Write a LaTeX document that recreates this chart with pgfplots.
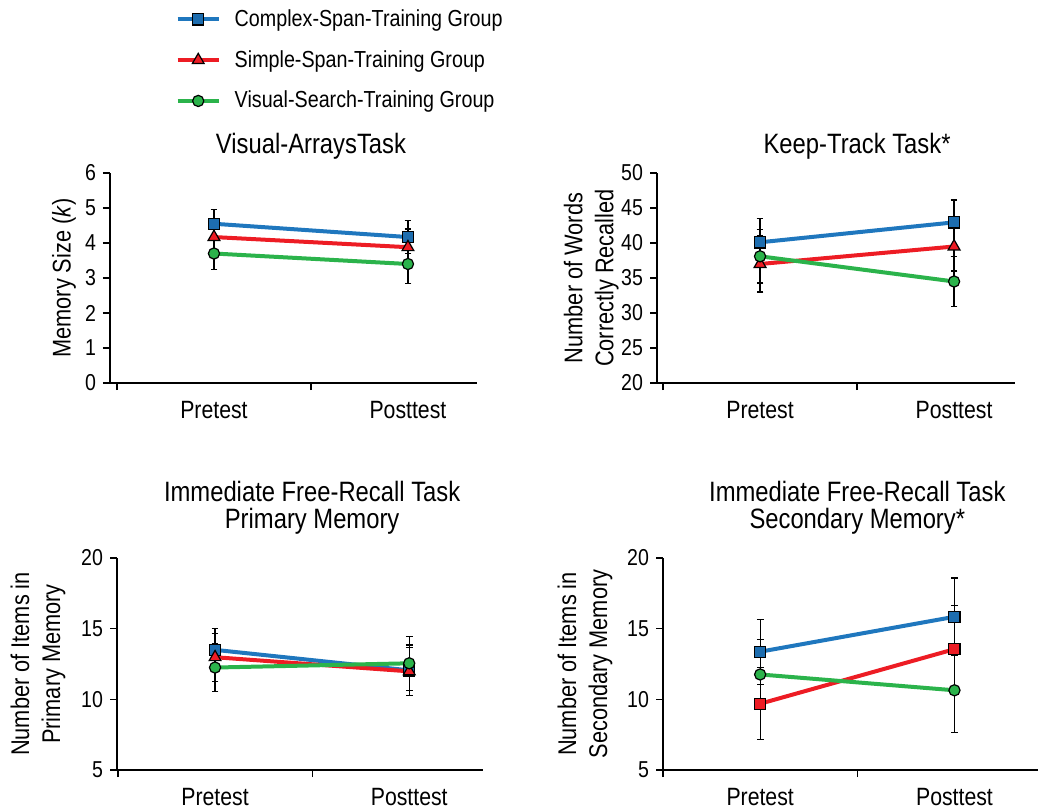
\documentclass[border=0pt]{standalone}
\usepackage{fontspec}
\setmainfont{Liberation Sans}[FakeStretch=0.85]
\usepackage{pgfplots}
\pgfplotsset{compat=1.18}

\definecolor{cblue}{RGB}{31,119,190}
\definecolor{cred}{RGB}{237,28,36}
\definecolor{cgreen}{RGB}{43,179,75}

\pgfplotsset{
  panel/.style={
    scale only axis, clip=false,
    axis x line*=bottom, axis y line*=left,
    axis line style={-, line width=0.6pt},
    xtick={-0.5,0.5}, xticklabels={,},
    extra x ticks={0,1}, extra x tick labels={Pretest,Posttest},
    extra x tick style={major tick length=0pt},
    tick align=outside, major tick length=3.5pt,
    tick style={black, line width=0.6pt},
    /pgf/number format/assume math mode=true,
    yticklabel style={font=\fontsize{11.5}{12}\selectfont},
    xticklabel style={font=\fontsize{12.5}{14}\selectfont, yshift=-5.5pt},
    ylabel style={font=\fontsize{12.8}{15.5}\selectfont, align=center, anchor=center},
    error bars/y dir=both, error bars/y explicit,
    error bars/error bar style={black, line width=0.6pt, solid},
    error bars/error mark options={rotate=90, mark size=1.7pt, line width=0.6pt, black},
  },
  cs/.style={cblue, line width=2pt, mark=square*, mark size=2.8pt,
    mark options={fill=cblue!92!black, draw=black, line width=0.6pt, solid}},
  ss/.style={cred, line width=2pt, mark=triangle*, mark size=3.4pt,
    mark options={fill=cred, draw=black, line width=0.6pt, solid}},
  ssq/.style={cred, line width=2pt, mark=square*, mark size=2.8pt,
    mark options={fill=cred, draw=black, line width=0.6pt, solid}},
  vs/.style={cgreen, line width=2pt, mark=*, mark size=2.8pt,
    mark options={fill=cgreen, draw=black, line width=0.6pt, solid}},
}

\begin{document}
\begin{tikzpicture}
\useasboundingbox (0pt,0pt) rectangle (521.5pt,-406pt);

% Visual arrays
\begin{axis}[panel, at={(55pt,-191.5pt)}, anchor=south west,
  width=183.5pt, height=105pt,
  xmin=-0.536, xmax=1.356, ymin=0, ymax=6, ytick={0,1,...,6},
  ylabel={Memory Size (\textit{k})},
  ylabel style={at={(axis description cs:-0.125,0.5)}},
  legend style={at={(axis description cs:0.178,1.80)}, anchor=north west,
    draw=none, fill=none, inner sep=0pt, row sep=6.5pt,
    font=\fontsize{11.6}{13}\selectfont},
  legend cell align=left,
  legend image code/.code={\draw[mark repeat=2,mark phase=2,#1] plot coordinates {(0pt,0pt)(10.25pt,0pt)(20.5pt,0pt)};
    \path (25.5pt,0pt);},
]
\addplot[cs] coordinates {(0,4.55) +- (0,0.40) (1,4.17) +- (0,0.47)};
\addlegendentry{Complex-Span-Training Group}
\addplot[ss] coordinates {(0,4.17) +- (0,0.42) (1,3.88) +- (0,0.52)};
\addlegendentry{Simple-Span-Training Group}
\addplot[vs] coordinates {(0,3.70) +- (0,0.46) (1,3.40) +- (0,0.55)};
\addlegendentry{Visual-Search-Training Group}
\node[anchor=base, yshift=10pt, font=\fontsize{14}{14}\selectfont] at (axis cs:0.5,6) {Visual-ArraysTask};
\end{axis}

% Keep track
\begin{axis}[panel, at={(328.5pt,-191.5pt)}, anchor=south west,
  width=179pt, height=105pt,
  xmin=-0.531, xmax=1.314, ymin=20, ymax=50, ytick={20,25,...,50},
  ylabel={Number of Words\\Correctly Recalled},
  ylabel style={at={(axis description cs:-0.184,0.5)}},
]
\addplot[cs] coordinates {(0,40.1) +- (0,3.4) (1,42.95) +- (0,3.2)};
\addplot[ss] coordinates {(0,37.0) +- (0,4.0) (1,39.5) +- (0,3.5)};
\addplot[vs] coordinates {(0,38.1) +- (0,3.8) (1,34.5) +- (0,3.6)};
\node[anchor=base, yshift=10pt, font=\fontsize{14}{14}\selectfont] at (axis cs:0.5,50) {Keep-Track Task*};
\end{axis}

% Free recall, primary memory
\begin{axis}[panel, at={(58.5pt,-385pt)}, anchor=south west,
  width=183pt, height=106pt,
  xmin=-0.505, xmax=1.38, ymin=5, ymax=20, ytick={5,10,15,20},
  ylabel={Number of Items in\\Primary Memory},
  ylabel style={at={(axis description cs:-0.216,0.5)}},
]
\addplot[cs] coordinates {(0,13.5) +- (0,1.5) (1,12.05) +- (0,1.8)};
\addplot[ss] coordinates {(0,12.98) +- (0,1.7) (1,11.98) +- (0,1.7)};
\addplot[vs] coordinates {(0,12.25) +- (0,1.7) (1,12.55) +- (0,1.9)};
\node[anchor=south, align=center, inner sep=0pt, yshift=11.6pt, font=\fontsize{14}{13.4}\selectfont] at (axis cs:0.5,20) {Immediate Free-Recall Task\\Primary Memory};
\end{axis}

% Free recall, secondary memory
\begin{axis}[panel, at={(331.5pt,-385pt)}, anchor=south west,
  width=187.5pt, height=106pt,
  xmin=-0.5, xmax=1.43, ymin=5, ymax=20, ytick={5,10,15,20},
  ylabel={Number of Items in\\Secondary Memory},
  ylabel style={at={(axis description cs:-0.208,0.5)}},
]
\addplot[cs] coordinates {(0,13.37) +- (0,2.3) (1,15.84) +- (0,2.75)};
\addplot[ssq] coordinates {(0,9.69) +- (0,2.55) (1,13.55) +- (0,3.1)};
\addplot[vs] coordinates {(0,11.76) +- (0,2.5) (1,10.64) +- (0,3.0)};
\node[anchor=south, align=center, inner sep=0pt, yshift=11.6pt, font=\fontsize{14}{13.4}\selectfont] at (axis cs:0.5,20) {Immediate Free-Recall Task\\Secondary Memory*};
\end{axis}
\end{tikzpicture}
\end{document}
